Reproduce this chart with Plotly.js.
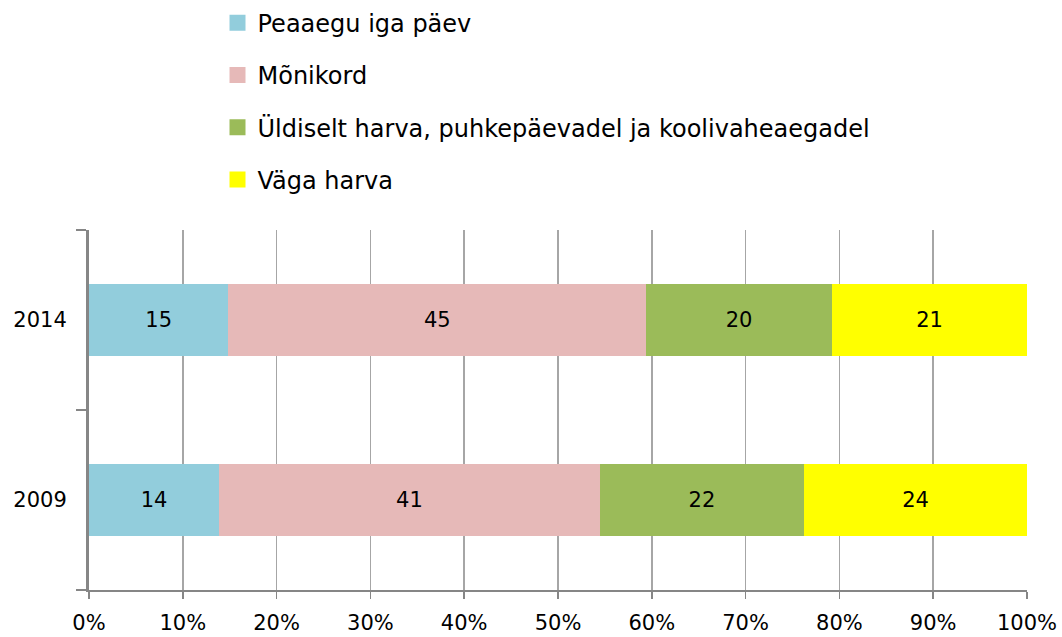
<!DOCTYPE html>
<html>
<head>
<meta charset="utf-8">
<script src="https://cdn.plot.ly/plotly-3.0.1.min.js"></script>
<style>html,body{margin:0;padding:0;background:#fff;}#chart{width:1062px;height:637px;}</style>
</head>
<body>
<div id="chart"></div>
<script>
const years = ['2009', '2014'];
const seriesNames = ['Peaaegu iga päev', 'Mõnikord', 'Üldiselt harva, puhkepäevadel ja koolivaheaegadel', 'Väga harva'];
const peaaegu = [14, 15];
const monikord = [41, 45];
const uldiselt = [22, 20];
const vagaHarva = [24, 21];
const colors = ['#92CDDC', '#E6B9B8', '#9BBB59', '#FFFF00'];
const xTickVals = [0,10,20,30,40,50,60,70,80,90,100];

const FONT = '"DejaVu Sans", Verdana, sans-serif';
const seriesValues = [peaaegu, monikord, uldiselt, vagaHarva];

const traces = [];
seriesValues.forEach((vals, i) => {
  traces.push({
    type: 'bar', orientation: 'h',
    y: years, x: vals,
    name: seriesNames[i],
    marker: {color: colors[i], line: {width: 0}},
    text: vals.map(String), textposition: 'inside', insidetextanchor: 'middle',
    textfont: {family: FONT, size: 21, color: '#000'},
    width: 0.4,
    showlegend: false, hoverinfo: 'skip'
  });
});
seriesValues.forEach((vals, i) => {
  traces.push({
    type: 'scatter', mode: 'markers',
    x: [null], y: [null],
    name: seriesNames[i],
    legendgroup: 'g' + i,
    marker: {symbol: 'square', size: 16, color: colors[i], line: {width: 0}},
    showlegend: true
  });
});

const layout = {
  width: 1062, height: 637,
  paper_bgcolor: '#fff', plot_bgcolor: '#fff',
  barmode: 'stack', barnorm: 'percent',
  margin: {l: 89, r: 35, t: 230, b: 47, autoexpand: false},
  font: {family: FONT, size: 21, color: '#000'},
  showlegend: true,
  legend: {
    orientation: 'v', xref: 'paper', x: 0.137, yref: 'paper', y: 1.637, xanchor: 'left', yanchor: 'top',
    font: {family: FONT, size: 24, color: '#000'},
    traceorder: 'grouped', tracegroupgap: 18,
    bgcolor: 'rgba(0,0,0,0)', itemwidth: 30
  },
  xaxis: {
    range: [0, 100], tickvals: xTickVals, ticktext: xTickVals.map(v => v + '%'),
    showgrid: true, gridcolor: '#A6A6A6', gridwidth: 1.5,
    zeroline: false, showline: true, linecolor: '#868686', linewidth: 2,
    ticks: 'outside', ticklen: 7, tickcolor: '#868686', tickwidth: 1.5,
    tickfont: {family: FONT, size: 21, color: '#000'}, ticklabelstandoff: 6, fixedrange: true
  },
  yaxis: {
    type: 'category', categoryorder: 'array', categoryarray: years,
    tickson: 'boundaries', range: [-0.5, 1.5],
    showgrid: false, zeroline: false, showline: true, linecolor: '#868686', linewidth: 3,
    ticks: 'outside', ticklen: 10, tickcolor: '#868686', tickwidth: 2,
    tickfont: {family: FONT, size: 21, color: '#000'}, ticklabelstandoff: 15, fixedrange: true
  }
};

Plotly.newPlot('chart', traces, layout, {displayModeBar: false, staticPlot: true});
</script>
</body>
</html>
